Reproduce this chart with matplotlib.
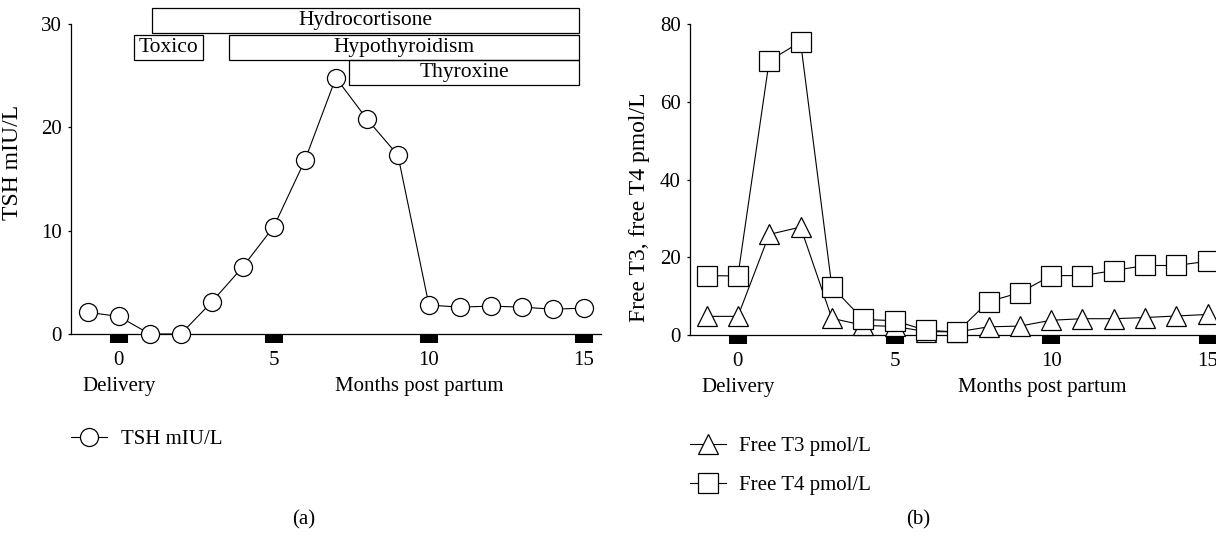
import matplotlib
matplotlib.use("Agg")
import matplotlib.pyplot as plt
from matplotlib.lines import Line2D
from matplotlib.patches import Rectangle

plt.rcParams['font.family'] = ['Liberation Serif', 'DejaVu Serif']

# ---- data ----
months = list(range(-1, 16))
tsh = [2.1, 1.7, 0.0, 0.0, 3.1, 6.5, 10.4, 16.8, 24.8, 20.8, 17.3, 2.8, 2.6, 2.7, 2.6, 2.4, 2.5]
ft3 = [4.8, 4.8, 25.9, 27.8, 4.3, 2.5, 2.2, 0.9, 0.8, 2.1, 2.3, 3.8, 4.2, 4.2, 4.5, 4.9, 5.3]
ft4 = [15.3, 15.2, 70.6, 75.5, 12.4, 4.0, 3.7, 1.2, 0.8, 8.6, 10.9, 15.3, 15.3, 16.6, 17.9, 17.9, 19.0]

# treatment / phase bars above panel (a)
phases = ['Hydrocortisone', 'Toxico', 'Hypothyroidism', 'Thyroxine']
phase_start = [1.06, 0.5, 3.54, 7.41]
phase_end = [14.85, 2.73, 14.85, 14.85]
phase_row = [0, 1, 1, 2]
row_bottom = [29.1, 26.5, 24.1]
row_height = 2.45

xticks = [0, 5, 10, 15]

fig = plt.figure(figsize=(12.16, 5.38), dpi=100)
ax1 = fig.add_axes([0.0584, 0.3792, 0.4359, 0.5762])
ax2 = fig.add_axes([0.5674, 0.3773, 0.431, 0.5775])

for ax in (ax1, ax2):
    ax.spines[['top', 'right']].set_visible(False)
    ax.spines[['left', 'bottom']].set_linewidth(0.9)
    ax.set_xticks(xticks)
    ax.tick_params(axis='x', direction='out', length=6.5, width=13, pad=6, labelsize=15)
    ax.tick_params(axis='y', direction='out', length=2.5, width=0.9, pad=4, labelsize=15)
    ax.text(0, -0.168, 'Delivery', transform=ax.get_xaxis_transform(),
            ha='center', va='center', fontsize=15)
    ax.text(9.7, -0.168, 'Months post partum', transform=ax.get_xaxis_transform(),
            ha='center', va='center', fontsize=15)

# ---- panel (a) ----
ax1.plot(months, tsh, '-o', color='black', lw=0.8, mfc='white', mec='black',
         mew=0.9, ms=13, clip_on=False, zorder=5)
ax1.set_xlim(-1.54, 15.55)
ax1.set_ylim(0, 30)
ax1.set_yticks([0, 10, 20, 30])
ax1.text(-0.110, 0.552, 'TSH mIU/L', transform=ax1.transAxes, rotation=90,
         ha='center', va='center', fontsize=17)

for name, s, e, r in zip(phases, phase_start, phase_end, phase_row):
    y0 = row_bottom[r]
    ax1.add_patch(Rectangle((s, y0), e - s, row_height, fill=False, lw=0.9,
                            ec='black', clip_on=False))
    ax1.text((s + e) / 2, y0 + row_height / 2, name, ha='center', va='center',
             fontsize=15.5, clip_on=False)

# ---- panel (b) ----
ax2.plot(months, ft3, '-^', color='black', lw=0.8, mfc='white', mec='black',
         mew=0.9, ms=14.5, clip_on=False, zorder=4)
ax2.plot(months, ft4, '-s', color='black', lw=0.8, mfc='white', mec='black',
         mew=0.9, ms=14, clip_on=False, zorder=5)
ax2.set_xlim(-1.53, 15.2)
ax2.set_ylim(0, 80)
ax2.set_yticks([0, 20, 40, 60, 80])
ax2.text(-0.0954, 0.412, 'Free T3, free T4 pmol/L', transform=ax2.transAxes,
         rotation=90, ha='center', va='center', fontsize=17)

# ---- legends ----
h_tsh = Line2D([], [], color='black', lw=0.8, marker='o', mfc='white',
               mec='black', mew=0.9, ms=13)
h_t3 = Line2D([], [], color='black', lw=0.8, marker='^', mfc='white',
              mec='black', mew=0.9, ms=14.5)
h_t4 = Line2D([], [], color='black', lw=0.8, marker='s', mfc='white',
              mec='black', mew=0.9, ms=14)

fig.legend([h_tsh], ['TSH mIU/L'], loc='center left',
           bbox_to_anchor=(0.0584, 0.184), frameon=False, fontsize=15,
           handlelength=1.73, handletextpad=0.67, borderpad=0, borderaxespad=0)
fig.legend([h_t3, h_t4], ['Free T3 pmol/L', 'Free T4 pmol/L'], loc='center left',
           bbox_to_anchor=(0.5674, 0.134), frameon=False, fontsize=15,
           handlelength=1.73, handletextpad=0.63, labelspacing=0.95,
           borderpad=0, borderaxespad=0)

fig.text(304 / 1216, 1 - 520 / 538, '(a)', ha='center', va='center', fontsize=15)
fig.text(918 / 1216, 1 - 520 / 538, '(b)', ha='center', va='center', fontsize=15)

fig.savefig('out.png', dpi=100)
